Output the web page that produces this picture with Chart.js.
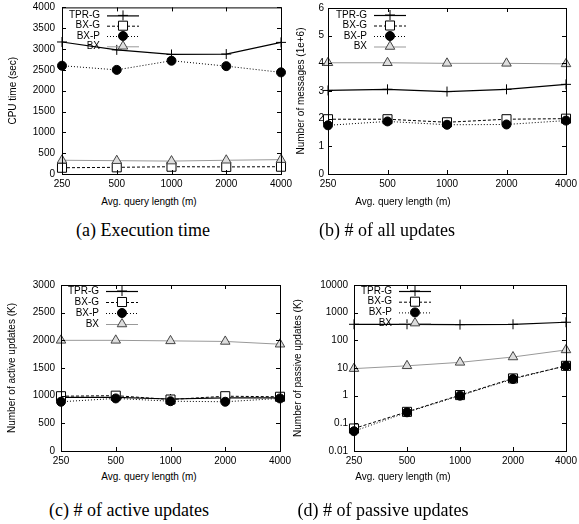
<!DOCTYPE html>
<html>
<head>
<meta charset="utf-8">
<script src="https://cdn.jsdelivr.net/npm/chart.js@4.4.0/dist/chart.umd.min.js"></script>
<style>
  body { margin: 0; background: #fff; }
  #page { position: relative; width: 579px; height: 524px; overflow: hidden; }
  canvas { position: absolute; }
  .xt { position: absolute; font: 10px "Liberation Sans", Arial, sans-serif; transform: translate(-50%, -50%); white-space: nowrap; }
  .cap { position: absolute; font: 18px "Liberation Serif", "Times New Roman", serif; transform: translate(-50%, -50%); white-space: nowrap; }
</style>
</head>
<body>
<div id="page">
  <canvas id="cA" width="295" height="192" style="left:0;top:0"></canvas>
  <canvas id="cB" width="289" height="192" style="left:290px;top:0"></canvas>
  <canvas id="cC" width="295" height="207" style="left:0;top:262px"></canvas>
  <canvas id="cD" width="289" height="207" style="left:290px;top:262px"></canvas>
  <div class="xt" style="left:149px;top:201px">Avg. query length (m)</div>
  <div class="xt" style="left:403px;top:201px">Avg. query length (m)</div>
  <div class="xt" style="left:149px;top:476px">Avg. query length (m)</div>
  <div class="xt" style="left:403px;top:476px">Avg. query length (m)</div>
  <div class="cap" style="left:143px;top:230px">(a) Execution time</div>
  <div class="cap" style="left:387px;top:230px">(b) # of all updates</div>
  <div class="cap" style="left:129px;top:510px">(c) # of active updates</div>
  <div class="cap" style="left:383px;top:510px">(d) # of passive updates</div>
</div>
<script>
const queryLengths = ['250', '500', '1000', '2000', '4000'];
const seriesNames = ['TPR-G', 'BX-G', 'BX-P', 'BX'];

// (a) CPU time (sec)
const cpuTprG = [3170, 2980, 2870, 2880, 3160];
const cpuBxG = [150, 160, 175, 170, 175];
const cpuBxP = [2600, 2500, 2720, 2590, 2440];
const cpuBx = [330, 320, 310, 330, 345];

// (b) number of messages (1e+6)
const msgTprG = [3.02, 3.06, 2.98, 3.06, 3.24];
const msgBxG = [1.98, 1.98, 1.87, 1.98, 2.0];
const msgBxP = [1.76, 1.9, 1.78, 1.79, 1.93];
const msgBx = [4.02, 4.02, 4.0, 4.0, 3.98];

// (c) number of active updates (K)
const actTprG = [970, 970, 940, 960, 960];
const actBxG = [990, 1000, 930, 990, 980];
const actBxP = [890, 950, 900, 890, 950];
const actBx = [2000, 2000, 1990, 1980, 1930];

// (d) number of passive updates (K), log scale
const pasTprG = [380, 380, 370, 380, 450];
const pasBxG = [0.065, 0.26, 1.05, 4.2, 12];
const pasBxP = [0.052, 0.25, 1.0, 4.0, 12];
const pasBx = [9.5, 12, 16, 25, 45];
const passiveTicks = [0.01, 0.1, 1, 10, 100, 1000, 10000];

Chart.defaults.font.family = '"Liberation Sans", Arial, sans-serif';
Chart.defaults.font.size = 10;
Chart.defaults.color = '#000';

// gnuplot-like line / point styles
const styles = [
  { borderColor: '#000', backgroundColor: '#000', borderWidth: 1.2, borderDash: [], pointStyle: 'cross', pointRadius: 5 },
  { borderColor: '#000', backgroundColor: '#fff', borderWidth: 1, borderDash: [3, 2], pointStyle: 'rect', pointRadius: 6.4 },
  { borderColor: '#000', backgroundColor: '#000', borderWidth: 1, borderDash: [1, 2], pointStyle: 'circle', pointRadius: 4.5 },
  { borderColor: '#999', backgroundColor: '#ddd', borderWidth: 1, borderDash: [], pointStyle: 'triangle', pointRadius: 5.5 }
];

function makeSets(series) {
  return series.map((vals, i) => ({
    label: seriesNames[i],
    data: vals,
    order: 3 - i, // later series on top, like gnuplot
    borderColor: styles[i].borderColor,
    borderWidth: styles[i].borderWidth,
    borderDash: styles[i].borderDash,
    pointStyle: styles[i].pointStyle,
    pointRadius: styles[i].pointRadius,
    pointBorderColor: i === 3 ? '#444' : '#000',
    pointBackgroundColor: styles[i].backgroundColor,
    pointBorderWidth: 1,
    tension: 0,
    fill: false
  }));
}

// Frame, inward ticks on all sides, and a gnuplot-style key
const gnuFrame = {
  id: 'gnuFrame',
  afterDraw(chart, args, opts) {
    const { ctx, chartArea: a } = chart;
    const xs = chart.scales.x, ys = chart.scales.y;
    ctx.save();
    ctx.strokeStyle = '#000';
    ctx.lineWidth = 1;
    ctx.setLineDash([]);
    ctx.strokeRect(a.left + 0.5, a.top + 0.5, a.right - a.left, a.bottom - a.top);
    ctx.beginPath();
    ys.ticks.forEach(t => {
      const y = Math.round(ys.getPixelForValue(t.value)) + 0.5;
      ctx.moveTo(a.left, y); ctx.lineTo(a.left + 4, y);
      ctx.moveTo(a.right, y); ctx.lineTo(a.right - 4, y);
    });
    xs.ticks.forEach((t, i) => {
      const x = Math.round(xs.getPixelForTick(i)) + 0.5;
      ctx.moveTo(x, a.bottom); ctx.lineTo(x, a.bottom - 4);
      ctx.moveTo(x, a.top); ctx.lineTo(x, a.top + 4);
    });
    ctx.stroke();

    // key
    ctx.font = '10px "Liberation Sans", Arial, sans-serif';
    ctx.textAlign = 'right';
    ctx.textBaseline = 'middle';
    chart.data.datasets.forEach((ds, i) => {
      const tx = a.left + opts.dx;
      const ty = a.top + opts.dy + i * opts.gap;
      ctx.fillStyle = '#000';
      ctx.fillText(ds.label, tx, ty);
      ctx.strokeStyle = ds.borderColor;
      ctx.lineWidth = ds.borderWidth;
      ctx.setLineDash(ds.borderDash);
      ctx.beginPath();
      ctx.moveTo(tx + 7, ty + 0.5);
      ctx.lineTo(tx + 39, ty + 0.5);
      ctx.stroke();
      ctx.setLineDash([]);
      ctx.strokeStyle = ds.pointBorderColor;
      ctx.fillStyle = ds.pointBackgroundColor;
      ctx.lineWidth = 1;
      Chart.helpers.drawPoint(ctx, { pointStyle: ds.pointStyle, rotation: 0, radius: ds.pointRadius, borderWidth: 1 }, tx + 23, ty);
    });
    ctx.restore();
  }
};

function panel(id, series, cfg) {
  const yScale = Object.assign({
    position: 'left',
    grid: { display: false, drawTicks: false },
    border: { display: false },
    title: { display: true, text: cfg.yTitle, font: { size: 10 }, padding: { top: cfg.titlePad, bottom: 0 } },
    afterFit(s) { s.width = cfg.yW; s.paddingTop = 0; s.paddingBottom = 0; }
  }, cfg.y);
  new Chart(document.getElementById(id), {
    type: 'line',
    data: { labels: queryLengths, datasets: makeSets(series) },
    options: {
      responsive: false,
      animation: false,
      layout: { padding: { left: 0, top: cfg.padTop, right: cfg.padRight, bottom: 0 } },
      plugins: { legend: { display: false }, tooltip: { enabled: false }, gnuFrame: cfg.key },
      scales: {
        x: {
          type: 'category',
          offset: false,
          grid: { display: false, drawTicks: false },
          border: { display: false },
          ticks: { padding: 4, maxRotation: 0, autoSkip: false, font: { size: 10 } },
          afterFit(s) { s.height = 18; s.paddingLeft = 0; s.paddingRight = 0; }
        },
        y: yScale
      }
    },
    plugins: [gnuFrame]
  });
}

const plain = v => String(v);

panel('cA', [cpuTprG, cpuBxG, cpuBxP, cpuBx], {
  yTitle: 'CPU time (sec)', yW: 62, padTop: 7, padRight: 14, titlePad: 7,
  y: { min: 0, max: 4000, ticks: { stepSize: 500, padding: 7, font: { size: 10 }, callback: plain } },
  key: { dx: 38, dy: 8, gap: 10.3 }
});

panel('cB', [msgTprG, msgBxG, msgBxP, msgBx], {
  yTitle: 'Number of messages (1e+6)', yW: 38, padTop: 8, padRight: 13, titlePad: 5,
  y: { min: 0, max: 6, ticks: { stepSize: 1, padding: 4, font: { size: 10 }, callback: plain } },
  key: { dx: 39, dy: 7, gap: 10.5 }
});

panel('cC', [actTprG, actBxG, actBxP, actBx], {
  yTitle: 'Number of active updates (K)', yW: 61, padTop: 23, padRight: 15, titlePad: 6,
  y: { min: 0, max: 3000, ticks: { stepSize: 500, padding: 6, font: { size: 10 }, callback: plain } },
  key: { dx: 38, dy: 6, gap: 11 }
});

panel('cD', [pasTprG, pasBxG, pasBxP, pasBx], {
  yTitle: 'Number of passive updates (K)', yW: 64, padTop: 23, padRight: 13, titlePad: 2,
  y: {
    type: 'logarithmic', min: 0.01, max: 10000,
    afterBuildTicks(s) { s.ticks = passiveTicks.map(v => ({ value: v })); },
    ticks: { padding: 6, font: { size: 10 }, callback: plain }
  },
  key: { dx: 38, dy: 6, gap: 10.7 }
});
</script>
</body>
</html>
